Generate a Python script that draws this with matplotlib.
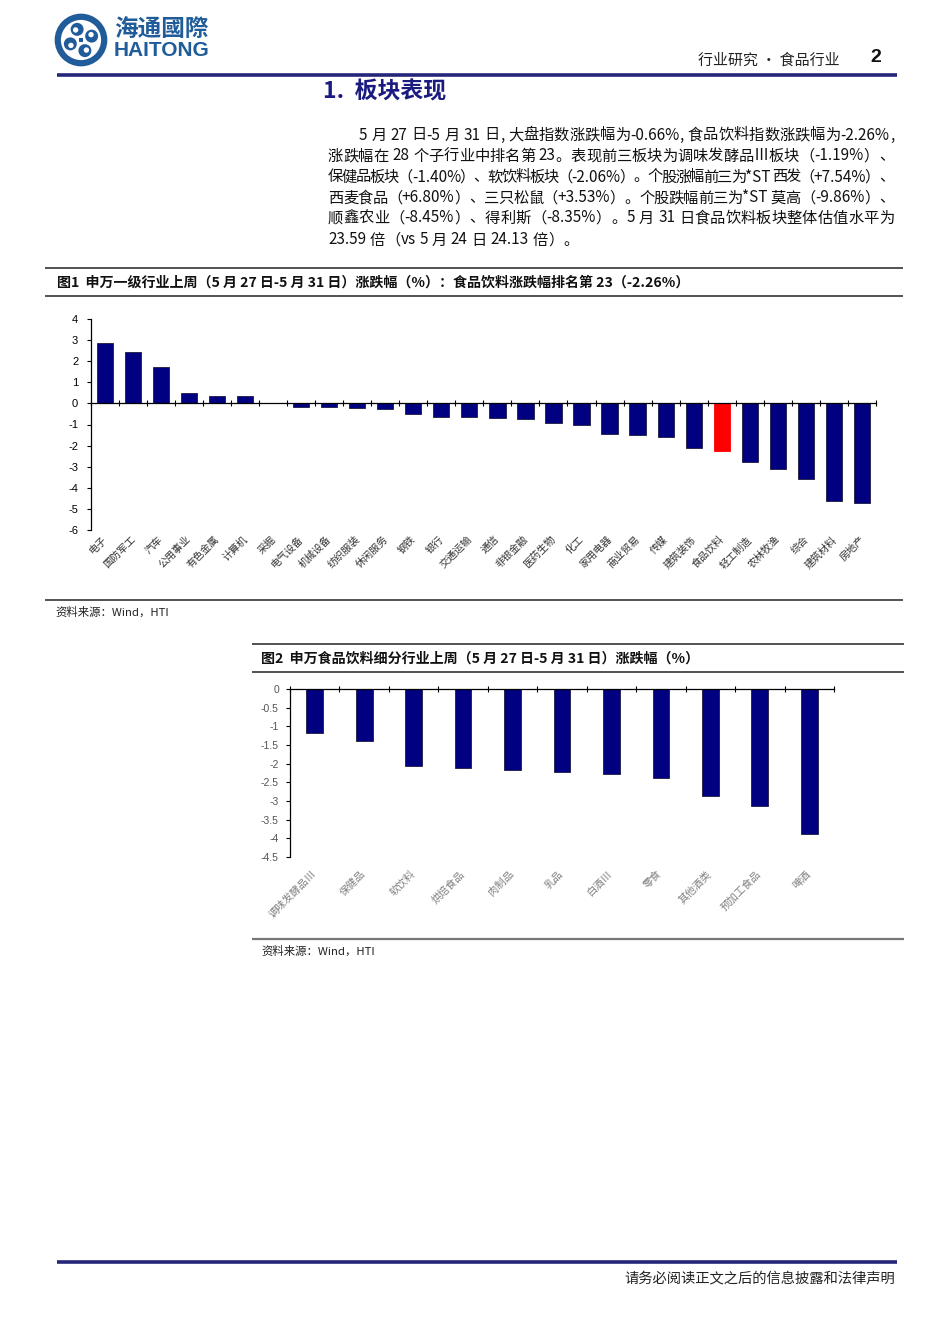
import re
import matplotlib
matplotlib.use('Agg')
import matplotlib.pyplot as plt
import matplotlib.transforms as mtransforms
from matplotlib.patches import Circle, Rectangle
from matplotlib.lines import Line2D
import numpy as np

plt.rcParams['font.family'] = ['Noto Sans CJK SC', 'DejaVu Sans']
plt.rcParams['axes.unicode_minus'] = False

# ---------------- data ----------------
industries = ['电子', '国防军工', '汽车', '公用事业', '有色金属', '计算机', '采掘',
              '电气设备', '机械设备', '纺织服装', '休闲服务', '钢铁', '银行', '交通运输',
              '通信', '非银金融', '医药生物', '化工', '家用电器', '商业贸易', '传媒',
              '建筑装饰', '食品饮料', '轻工制造', '农林牧渔', '综合', '建筑材料', '房地产']
industry_change = [2.85, 2.45, 1.72, 0.47, 0.34, 0.34, 0.0, -0.16, -0.19, -0.24, -0.27,
                   -0.52, -0.63, -0.66, -0.71, -0.76, -0.95, -1.00, -1.47, -1.50, -1.57,
                   -2.10, -2.26, -2.80, -3.13, -3.59, -4.63, -4.71]
highlight = '食品饮料'
ind_yticks = [-6, -5, -4, -3, -2, -1, 0, 1, 2, 3, 4]

sub_industries = ['调味发酵品Ⅲ', '保健品', '软饮料', '烘焙食品', '肉制品', '乳品',
                  '白酒Ⅲ', '零食', '其他酒类', '预加工食品', '啤酒']
sub_change = [-1.19, -1.40, -2.06, -2.11, -2.17, -2.21, -2.28, -2.39, -2.87, -3.14, -3.88]
sub_yticks = [-4.5, -4, -3.5, -3, -2.5, -2, -1.5, -1, -0.5, 0]

paragraph = [
    "5 月 27 日-5 月 31 日, 大盘指数涨跌幅为-0.66%, 食品饮料指数涨跌幅为-2.26%,",
    "涨跌幅在 28 个子行业中排名第 23。表现前三板块为调味发酵品Ⅲ板块（-1.19%）、",
    "保健品板块（-1.40%）、软饮料板块（-2.06%）。个股涨幅前三为*ST 西发（+7.54%）、",
    "西麦食品（+6.80%）、三只松鼠（+3.53%）。个股跌幅前三为*ST 莫高（-9.86%）、",
    "顺鑫农业（-8.45%）、得利斯（-8.35%）。5 月 31 日食品饮料板块整体估值水平为",
    "23.59 倍（vs 5 月 24 日 24.13 倍）。",
]
title1 = "图1  申万一级行业上周（5 月 27 日-5 月 31 日）涨跌幅（%）：食品饮料涨跌幅排名第 23（-2.26%）"
title2 = "图2  申万食品饮料细分行业上周（5 月 27 日-5 月 31 日）涨跌幅（%）"
source = "资料来源：Wind，HTI"

# ---------------- figure ----------------
W, H = 950, 1344
fig = plt.figure(figsize=(W / 100, H / 100), dpi=100)
NAVY = '#000080'
BRAND = '#1f5c99'


def fx(x):
    return x / W


def fy(y):
    return 1 - y / H


def hline(x0, x1, y, color, lw):
    fig.add_artist(Line2D([fx(x0), fx(x1)], [fy(y), fy(y)], transform=fig.transFigure,
                          color=color, lw=lw, solid_capstyle='butt'))


# ---- logo ----
lax = fig.add_axes([fx(54), fy(67), 54 / W, 54 / H])
lax.set_xlim(-1, 1)
lax.set_ylim(-1, 1)
lax.set_aspect('equal')
lax.axis('off')
lax.add_patch(Circle((0, 0), 0.86, fill=False, ec=BRAND, lw=4.5))
for ang in [0, 90, 180, 270]:
    a = np.deg2rad(ang + 20)
    cx, cy = 0.42 * np.cos(a), 0.42 * np.sin(a)
    lax.add_patch(Circle((cx, cy), 0.24, fc=BRAND, ec='none'))
    lax.add_patch(Circle((cx + 0.06 * np.cos(a + 1.6), cy + 0.06 * np.sin(a + 1.6)), 0.10,
                         fc='white', ec='none'))
lax.add_patch(Rectangle((-0.09, -0.09), 0.18, 0.18, fc=BRAND, ec='none'))

fig.text(fx(114), fy(29), '海通國際', fontsize=17, fontweight='bold', color=BRAND,
         va='center', ha='left')
fig.text(fx(114), fy(51), 'HAITONG', fontsize=15, fontweight='bold', color=BRAND,
         va='center', ha='left', family='Liberation Sans')

fig.text(fx(698), fy(60), '行业研究 • 食品行业', fontsize=10.8, color='#222222',
         va='center', ha='left')
fig.text(fx(876), fy(58), '2', fontsize=14, fontweight='bold', color='#111111',
         va='center', ha='center', family='Liberation Sans')
hline(57, 897, 75, '#25257a', 2.6)

fig.text(fx(323), fy(92), '1.  板块表现', fontsize=16.5, fontweight='bold',
         color='#1a1a80', va='center', ha='left')

# ---- justified paragraph ----
renderer = fig.canvas.get_renderer()
PFS = 11
space_px = 0.25 * PFS * 100 / 72


def tokenize(s):
    return re.findall(r'[A-Za-z0-9\.\-\+%\*]+| |.', s)


def place_line(s, x0, x1, y, justify=True):
    toks = tokenize(s)
    items = []
    total = 0
    for t in toks:
        if t == ' ':
            items.append((t, None, space_px))
            total += space_px
        else:
            txt = fig.text(0, fy(y), t, fontsize=PFS, color='#111111', va='center',
                           ha='left')
            w = txt.get_window_extent(renderer=renderer).width
            items.append((t, txt, w))
            total += w
    gap = (x1 - x0 - total) / max(len(items) - 1, 1) if justify else 0
    x = x0
    for t, txt, w in items:
        if txt is not None:
            txt.set_x(fx(x))
        x += w + gap


line_y = [135, 156, 177, 198, 218, 240]
for i, (s, y) in enumerate(zip(paragraph, line_y)):
    x0 = 359 if i == 0 else 328
    place_line(s, x0, 894, y, justify=(i < len(paragraph) - 1))

# ---- chart 1 frame ----
hline(45, 903, 268, '#444444', 1.3)
hline(45, 903, 296, '#444444', 1.3)
fig.text(fx(57), fy(283), title1, fontsize=10.1, fontweight='bold', color='#111111',
         va='center', ha='left')
hline(45, 903, 600, '#444444', 1.3)
fig.text(fx(55), fy(612), source, fontsize=8.2, color='#222222', va='center', ha='left')

ax1 = fig.add_axes([fx(90.7), fy(530), (876 - 90.7) / W, (530 - 319) / H])
x1 = np.arange(len(industries))
cols = ['#ff0000' if n == highlight else NAVY for n in industries]
ecols = ['#ff0000' if n == highlight else '#1a1a40' for n in industries]
ax1.bar(x1, industry_change, width=0.58, color=cols, edgecolor=ecols, linewidth=0.6,
        zorder=2)
ax1.set_xlim(-0.5, len(industries) - 0.5)
ax1.set_ylim(min(ind_yticks), max(ind_yticks))
ax1.spines['top'].set_visible(False)
ax1.spines['right'].set_visible(False)
ax1.spines['bottom'].set_position(('data', 0))
ax1.spines['bottom'].set_zorder(3)
ax1.spines['left'].set_linewidth(0.9)
ax1.spines['bottom'].set_linewidth(0.9)
ax1.set_yticks(ind_yticks)
ax1.set_yticklabels([str(v) for v in ind_yticks], family='Liberation Sans', fontsize=8)
ax1.tick_params(axis='y', direction='out', length=3, width=0.8, pad=6)
ax1.set_xticks(np.arange(-0.5, len(industries), 1))
ax1.tick_params(axis='x', direction='inout', length=5, width=0.8, labelbottom=False)
tr1 = mtransforms.blended_transform_factory(ax1.transData, ax1.transAxes)
for i, n in enumerate(industries):
    ax1.text(i - 0.1, -0.02, n, transform=tr1, rotation=45, rotation_mode='anchor',
             ha='right', va='top', fontsize=7.3, color='#333333')

# ---- chart 2 frame ----
hline(252, 904, 644, '#444444', 1.3)
hline(252, 904, 672, '#444444', 1.3)
fig.text(fx(261), fy(659), title2, fontsize=10.1, fontweight='bold', color='#111111',
         va='center', ha='left')
hline(252, 904, 939, '#777777', 1.6)
fig.text(fx(261), fy(951), source, fontsize=8.2, color='#222222', va='center', ha='left')

ax2 = fig.add_axes([fx(290), fy(857), (834 - 290) / W, (857 - 689) / H])
x2 = np.arange(len(sub_industries))
ax2.bar(x2, sub_change, width=0.34, color=NAVY, edgecolor='#1a1a40', linewidth=0.6,
        zorder=2)
ax2.set_xlim(-0.5, len(sub_industries) - 0.5)
ax2.set_ylim(min(sub_yticks), max(sub_yticks))
ax2.spines['top'].set_visible(False)
ax2.spines['right'].set_visible(False)
ax2.spines['bottom'].set_position(('data', 0))
ax2.spines['bottom'].set_zorder(3)
ax2.spines['left'].set_linewidth(0.9)
ax2.spines['bottom'].set_linewidth(0.9)
ax2.set_yticks(sub_yticks)
ax2.set_yticklabels([f'{v:g}' for v in sub_yticks], family='Liberation Sans',
                    fontsize=7.5, color='#555555')
ax2.tick_params(axis='y', direction='out', length=3, width=0.8, pad=5)
ax2.set_xticks(np.arange(-0.5, len(sub_industries), 1))
ax2.tick_params(axis='x', direction='inout', length=5, width=0.8, labelbottom=False)
tr2 = mtransforms.blended_transform_factory(ax2.transData, ax2.transAxes)
for i, n in enumerate(sub_industries):
    ax2.text(i - 0.08, -0.07, n, transform=tr2, rotation=45, rotation_mode='anchor',
             ha='right', va='top', fontsize=7.5, color='#808080')

# ---- footer ----
hline(57, 897, 1262, '#25257a', 2.6)
fig.text(fx(895), fy(1279), '请务必阅读正文之后的信息披露和法律声明', fontsize=10.3,
         color='#222222', va='center', ha='right')

fig.savefig('out.png', dpi=100)
